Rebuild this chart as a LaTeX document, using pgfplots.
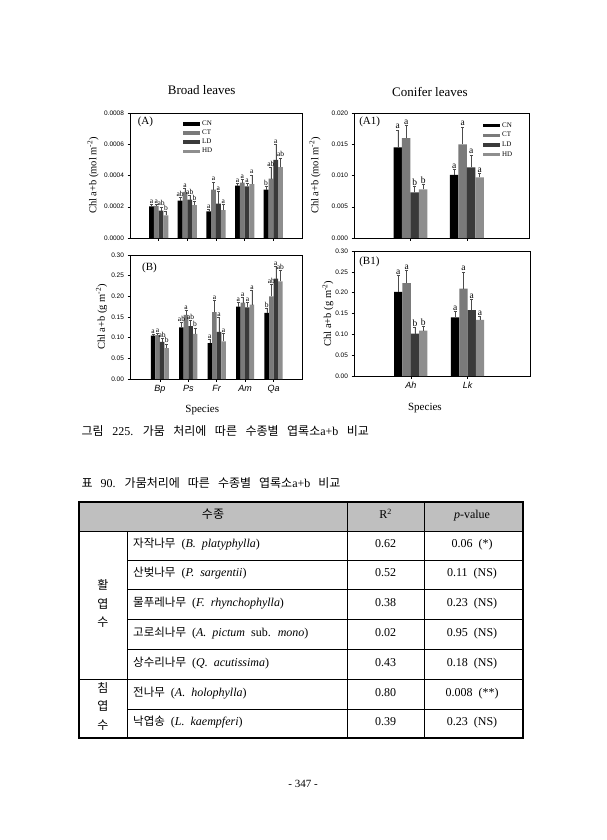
\documentclass[border=0pt]{standalone}
\usepackage{fontspec}
\setmainfont{Liberation Serif}
\newfontfamily\kr{Noto Sans CJK KR}
\newfontfamily\arial{Liberation Sans}
\usepackage{pgfplots}
\usepackage{pgfplotstable}
\pgfplotsset{compat=1.18}
\definecolor{cCN}{HTML}{000000}
\definecolor{cCT}{HTML}{7A7A7A}
\definecolor{cLD}{HTML}{3A3A3A}
\definecolor{cHD}{HTML}{8E8E8E}
\definecolor{cHead}{HTML}{BFBFBF}
\newcommand{\ws}[1]{\spaceskip=#1\relax}

% Broad leaves, mol m-2
\pgfplotstableread{
sp cn cne ct cte ld lde hd hde cnl ctl ldl hdl
Bp 0.000203 0.000012 0.000205 0.000012 0.000175 0.000025 0.000145 0.000025 a a ab b
Ps 0.000240 0.000020 0.000295 0.000025 0.000245 0.000030 0.000210 0.000025 ab a ab b
Fr 0.000170 0.000015 0.000310 0.000050 0.000220 0.000080 0.000178 0.000040 a a a a
Am 0.000335 0.000015 0.000355 0.000020 0.000330 0.000020 0.000345 0.000060 a a a a
Qa 0.000310 0.000020 0.000380 0.000070 0.000500 0.000100 0.000453 0.000060 b ab a ab
}\tA
% Conifer leaves, mol m-2
\pgfplotstableread{
sp cn cne ct cte ld lde hd hde cnl ctl ldl hdl
Ah 0.0145 0.0028 0.0160 0.0020 0.0073 0.0010 0.0078 0.0008 a a b b
Lk 0.0101 0.0009 0.0150 0.0028 0.0113 0.0020 0.0097 0.0006 a a a a
}\tAone
% Broad leaves, g m-2
\pgfplotstableread{
sp cn cne ct cte ld lde hd hde cnl ctl ldl hdl
Bp 0.105 0.003 0.106 0.004 0.090 0.008 0.075 0.010 a a ab b
Ps 0.125 0.012 0.155 0.012 0.128 0.015 0.109 0.015 ab a ab b
Fr 0.087 0.010 0.162 0.028 0.114 0.035 0.091 0.020 a a a a
Am 0.175 0.010 0.185 0.012 0.173 0.012 0.180 0.035 a a a a
Qa 0.160 0.012 0.200 0.030 0.243 0.030 0.236 0.028 b ab a ab
}\tB
% Conifer leaves, g m-2
\pgfplotstableread{
sp cn cne ct cte ld lde hd hde cnl ctl ldl hdl
Ah 0.202 0.040 0.223 0.030 0.102 0.014 0.109 0.010 a a b b
Lk 0.141 0.015 0.210 0.040 0.158 0.027 0.135 0.008 a a a a
}\tBone

\pgfplotsset{
  panel/.style={scale only axis, anchor=south west, clip=false, ymin=0,
    axis line style={line width=0.5pt}, tick align=outside,
    xtick pos=bottom, ytick pos=left, major tick length=2.5pt,
    tick style={line width=0.5pt, black}, scaled y ticks=false,
    yticklabel style={font=\arial\fontsize{6.5}{7}\selectfont},
    xticklabel style={font=\arial\itshape\fontsize{9}{10}\selectfont},
    /pgf/number format/assume math mode=true,
    ylabel style={font=\fontsize{10.5}{12}\selectfont, anchor=center},
    xlabel style={font=\fontsize{11}{12}\selectfont, anchor=center},
    title style={font=\fontsize{13}{14}\selectfont, anchor=center, yshift=-6pt},
    legend cell align=left},
  mybar/.style 2 args={ybar, bar width=#1, bar shift=0pt, fill=#2, draw=none,
    /pgfplots/legend image code/.code={\fill[##1] (0pt,-1.7pt) rectangle (17pt,1.7pt);},
    error bars/.cd, y dir=plus, y explicit,
    error bar style={line width=0.4pt, black!70},
    error mark options={rotate=90, mark size=1.5pt, line width=0.4pt, black!70}},
  lab/.style={draw=none, forget plot, nodes near coords, point meta=explicit symbolic,
    nodes near coords style={font=\fontsize{#1}{#1}\selectfont, anchor=south, inner sep=0.6pt}},
}

% #1 table, #2 bar width, #3 inner offset, #4 outer offset, #5 label size
\newcommand{\panelbars}[5]{%
  \addplot[mybar={#2}{cCN}] table[x expr=\coordindex+1-#4, y=cn, y error=cne] {#1};
  \addplot[mybar={#2}{cCT}] table[x expr=\coordindex+1-#3, y=ct, y error=cte] {#1};
  \addplot[mybar={#2}{cLD}] table[x expr=\coordindex+1+#3, y=ld, y error=lde] {#1};
  \addplot[mybar={#2}{cHD}] table[x expr=\coordindex+1+#4, y=hd, y error=hde] {#1};
  \addplot[lab=#5] table[x expr=\coordindex+1-#4, y expr=\thisrow{cn}+\thisrow{cne}, meta=cnl] {#1};
  \addplot[lab=#5] table[x expr=\coordindex+1-#3, y expr=\thisrow{ct}+\thisrow{cte}, meta=ctl] {#1};
  \addplot[lab=#5] table[x expr=\coordindex+1+#3, y expr=\thisrow{ld}+\thisrow{lde}, meta=ldl] {#1};
  \addplot[lab=#5] table[x expr=\coordindex+1+#4, y expr=\thisrow{hd}+\thisrow{hde}, meta=hdl] {#1};
}

\begin{document}
\begin{tikzpicture}
\fill[white] (0,0) rectangle (606pt,-840pt);
\path[use as bounding box] (0,0) rectangle (606pt,-840pt);

% (A)
\begin{axis}[panel, at={(130pt,-238pt)}, width=172pt, height=125pt,
  xmin=0, xmax=6, ymax=0.0008, xtick={1,2,3,4,5}, xticklabels={,,,,},
  ytick={0,0.0002,0.0004,0.0006,0.0008},
  yticklabels={0.0000,0.0002,0.0004,0.0006,0.0008},
  ylabel={Chl a+b (mol m\textsuperscript{-2})},
  ylabel style={at={(axis description cs:-0.215,0.5)}},
  title={Broad leaves}, title style={at={(axis description cs:0.417,1.184)}},
  legend style={at={(0.308,0.955)}, anchor=north west, draw=none, fill=none,
    font=\fontsize{7}{8}\selectfont, inner sep=0pt, row sep=-1pt}]
\panelbars{\tA}{0.168}{0.084}{0.252}{7.5}
\legend{CN,CT,LD,HD}
\node[anchor=west, font=\fontsize{11}{12}\selectfont] at (rel axis cs:0.025,0.93) {(A)};
\end{axis}

% (A1)
\begin{axis}[panel, at={(354pt,-238pt)}, width=175pt, height=125pt,
  xmin=0, xmax=3.1, ymax=0.020, xtick={1,2}, xticklabels={,},
  ytick={0,0.005,0.010,0.015,0.020},
  yticklabels={0.000,0.005,0.010,0.015,0.020},
  ylabel={Chl a+b (mol m\textsuperscript{-2})},
  ylabel style={at={(axis description cs:-0.223,0.5)}},
  title={Conifer leaves}, title style={at={(axis description cs:0.434,1.17)}},
  legend style={at={(0.737,0.94)}, anchor=north west, draw=none, fill=none,
    font=\fontsize{7}{8}\selectfont, inner sep=0pt, row sep=-0.5pt}]
\panelbars{\tAone}{0.15}{0.075}{0.225}{9.5}
\legend{CN,CT,LD,HD}
\node[anchor=west, font=\fontsize{11}{12}\selectfont] at (rel axis cs:0.01,0.93) {(A1)};
\end{axis}

% (B)
\begin{axis}[panel, at={(130pt,-379pt)}, width=172pt, height=124pt,
  xmin=-0.05, xmax=6, ymax=0.30, xtick={1,2,3,4,5},
  xticklabels={Bp,Ps,Fr,Am,Qa},
  ytick={0,0.05,0.10,0.15,0.20,0.25,0.30},
  yticklabels={0.00,0.05,0.10,0.15,0.20,0.25,0.30},
  ylabel={Chl a+b (g m\textsuperscript{-2})},
  ylabel style={at={(axis description cs:-0.165,0.5)}},
  xlabel={Species}, xlabel style={at={(axis description cs:0.42,-0.25)}}]
\panelbars{\tB}{0.16}{0.08}{0.24}{7.5}
\node[anchor=west, font=\fontsize{11}{12}\selectfont] at (rel axis cs:0.05,0.895) {(B)};
\end{axis}

% (B1)
\begin{axis}[panel, at={(354pt,-376pt)}, width=176pt, height=125pt,
  xmin=0, xmax=3.1, ymax=0.30, xtick={1,2},
  xticklabels={Ah,Lk},
  ytick={0,0.05,0.10,0.15,0.20,0.25,0.30},
  yticklabels={0.00,0.05,0.10,0.15,0.20,0.25,0.30},
  ylabel={Chl a+b (g m\textsuperscript{-2})},
  ylabel style={at={(axis description cs:-0.148,0.5)}},
  xlabel={Species}, xlabel style={at={(axis description cs:0.403,-0.256)}}]
\panelbars{\tBone}{0.146}{0.073}{0.219}{9.5}
\node[anchor=west, font=\fontsize{11}{12}\selectfont] at (rel axis cs:0.01,0.91) {(B1)};
\end{axis}

\begin{scope}[x=1pt, y=-1pt]
% captions
\node[anchor=mid west, font=\fontsize{12}{14}\selectfont, inner sep=0pt] at (81.5,433.5)
  {\ws{8.5pt}{\kr\ws{8.5pt}그림} 225. {\kr\ws{8.5pt}가뭄 처리에 따른 수종별 엽록소}a+b {\kr\ws{8.5pt}비교}};
\node[anchor=mid west, font=\fontsize{12}{14}\selectfont, inner sep=0pt] at (81.5,485)
  {\ws{8pt}{\kr\ws{8pt}표} 90. {\kr\ws{8pt}가뭄처리에 따른 수종별 엽록소}a+b {\kr\ws{8pt}비교}};
% table
\fill[cHead] (79,502) rectangle (523,531);
\draw[line width=0.8pt] (79,531) -- (523,531);
\draw[line width=0.5pt] (127,560) -- (523,560) (127,589) -- (523,589) (127,619) -- (523,619)
  (127,649) -- (523,649) (127,709) -- (523,709);
\draw[line width=0.9pt] (79,679) -- (523,679);
\draw[line width=0.5pt] (127,531) -- (127,738) (424,502) -- (424,738);
\draw[line width=0.9pt] (347,502) -- (347,738);
\draw[line width=1.1pt] (79,502) rectangle (523,738);
\begin{scope}[every node/.style={font=\fontsize{12}{13}\selectfont, inner sep=0pt}]
\node[anchor=mid] at (213,516.5) {\kr 수종};
\node[anchor=mid] at (385.5,516.5) {R\textsuperscript{2}};
\node[anchor=mid] at (472,516.5) {\textit{p}-value};
\node[anchor=mid] at (103,587) {\kr 활};
\node[anchor=mid] at (103,606) {\kr 엽};
\node[anchor=mid] at (103,624) {\kr 수};
\node[anchor=mid] at (103,690) {\kr 침};
\node[anchor=mid] at (103,708) {\kr 엽};
\node[anchor=mid] at (103,727) {\kr 수};
\node[anchor=mid west] at (133,545.5) {\ws{6pt}{\kr\fontsize{11.5}{13}\selectfont 자작나무} (\textit{B. platyphylla})};
\node[anchor=mid west] at (133,574.5) {\ws{6pt}{\kr\fontsize{11.5}{13}\selectfont 산벚나무} (\textit{P. sargentii})};
\node[anchor=mid west] at (133,604) {\ws{6pt}{\kr\fontsize{11.5}{13}\selectfont 물푸레나무} (\textit{F. rhynchophylla})};
\node[anchor=mid west] at (133,634) {\ws{6pt}{\kr\fontsize{11.5}{13}\selectfont 고로쇠나무} (\textit{A. pictum} sub. \textit{mono})};
\node[anchor=mid west] at (133,664) {\ws{6pt}{\kr\fontsize{11.5}{13}\selectfont 상수리나무} (\textit{Q. acutissima})};
\node[anchor=mid west] at (133,694) {\ws{6pt}{\kr\fontsize{11.5}{13}\selectfont 전나무} (\textit{A. holophylla})};
\node[anchor=mid west] at (133,723.5) {\ws{6pt}{\kr\fontsize{11.5}{13}\selectfont 낙엽송} (\textit{L. kaempferi})};
\node[anchor=mid] at (385.5,545.5) {0.62};
\node[anchor=mid] at (385.5,574.5) {0.52};
\node[anchor=mid] at (385.5,604) {0.38};
\node[anchor=mid] at (385.5,634) {0.02};
\node[anchor=mid] at (385.5,664) {0.43};
\node[anchor=mid] at (385.5,694) {0.80};
\node[anchor=mid] at (385.5,723.5) {0.39};
\node[anchor=mid] at (472,545.5) {\ws{6pt}0.06 (*)};
\node[anchor=mid] at (472,574.5) {\ws{6pt}0.11 (NS)};
\node[anchor=mid] at (472,604) {\ws{6pt}0.23 (NS)};
\node[anchor=mid] at (472,634) {\ws{6pt}0.95 (NS)};
\node[anchor=mid] at (472,664) {\ws{6pt}0.18 (NS)};
\node[anchor=mid] at (472,694) {\ws{6pt}0.008 (**)};
\node[anchor=mid] at (472,723.5) {\ws{6pt}0.23 (NS)};
\end{scope}
\node[anchor=mid, font=\fontsize{11}{12}\selectfont] at (303,785) {- 347 -};
\end{scope}
\end{tikzpicture}
\end{document}
